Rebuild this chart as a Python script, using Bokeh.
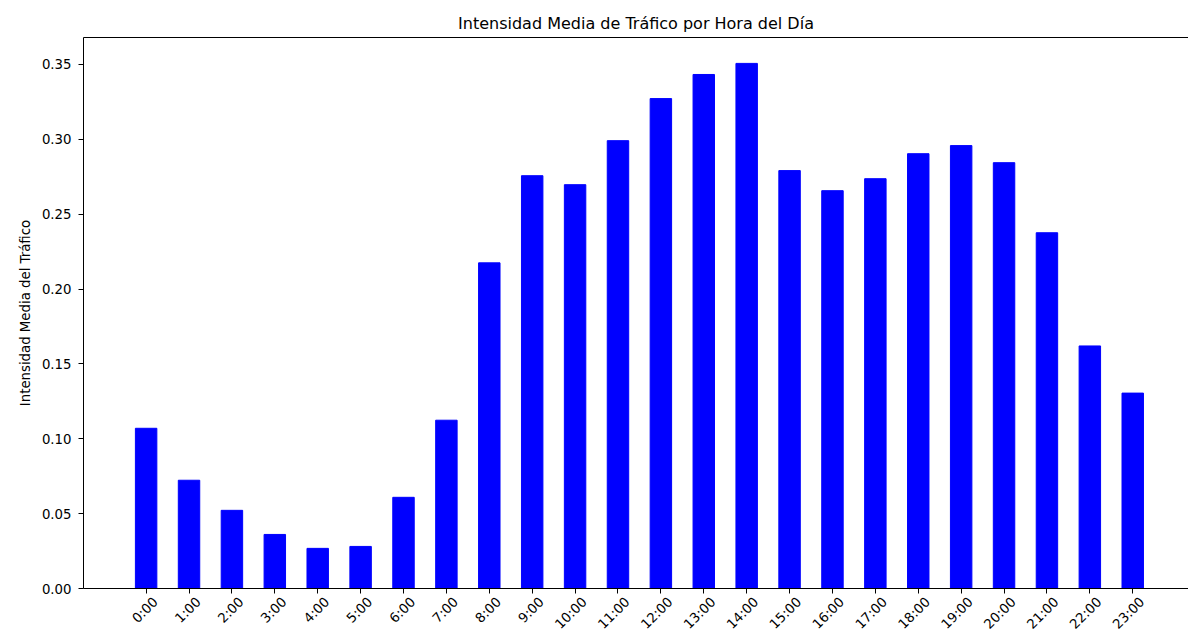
import math
from bokeh.plotting import figure
from bokeh.models import FixedTicker, LinearAxis, Range1d, NumeralTickFormatter
from bokeh.embed import file_html
from bokeh.resources import INLINE

hours = list(range(24))
hour_labels = [f"{h}:00" for h in hours]
intensity = [0.107, 0.0723, 0.0522, 0.0361, 0.0268, 0.0281, 0.0609, 0.1124,
             0.2175, 0.2757, 0.2697, 0.2991, 0.3272, 0.3433, 0.3507, 0.2791,
             0.2657, 0.2737, 0.2904, 0.2958, 0.2844, 0.2376, 0.162, 0.1305]

FONT = "DejaVu Sans"
X0, X1 = -1.46, 24.3
SHIFT = 0.22  # moves rotated labels so that they sit centred under the ticks

p = figure(width=1188, height=641, output_backend="svg", toolbar_location=None,
           x_range=Range1d(X0, X1), y_range=Range1d(0, 0.368),
           min_border_left=83, min_border_top=37, min_border_bottom=53, min_border_right=0,
           title="Intensidad Media de Tráfico por Hora del Día")
p.extra_x_ranges = {"lbl": Range1d(X0 - SHIFT, X1 - SHIFT)}

p.vbar(x=hours, top=intensity, width=0.5, fill_color="#0000ff", line_color="#0000ff")

p.xgrid.visible = False
p.ygrid.visible = False
p.outline_line_color = None

p.title.align = "center"
p.title.offset = 3
p.title.text_font = FONT
p.title.text_font_size = "16px"
p.title.text_font_style = "normal"
p.title.text_color = "#000000"

xa = p.xaxis[0]
xa.ticker = FixedTicker(ticks=hours)
xa.major_label_overrides = {h: "" for h in hours}
xa.major_label_standoff = 0
xa.major_tick_out = 5
xa.major_tick_in = 0
xa.minor_tick_out = 0
xa.minor_tick_in = 0
xa.axis_line_color = "#000000"
xa.major_tick_line_color = "#000000"

lab = LinearAxis(x_range_name="lbl", axis_line_color=None, major_tick_line_color=None,
                 minor_tick_line_color=None, major_tick_out=0, major_tick_in=0,
                 minor_tick_out=0, minor_tick_in=0, major_label_standoff=6,
                 major_label_orientation=math.pi / 4)
lab.ticker = FixedTicker(ticks=hours)
lab.major_label_overrides = {h: s for h, s in zip(hours, hour_labels)}
lab.major_label_text_font = FONT
lab.major_label_text_font_size = "13.3px"
lab.major_label_text_color = "#000000"
p.add_layout(lab, "below")

ya = p.yaxis[0]
ya.ticker = FixedTicker(ticks=[0, 0.05, 0.1, 0.15, 0.2, 0.25, 0.3, 0.35])
ya.formatter = NumeralTickFormatter(format="0.00")
ya.axis_label = "Intensidad Media del Tráfico"
ya.axis_label_text_font = FONT
ya.axis_label_text_font_size = "13.3px"
ya.axis_label_text_font_style = "normal"
ya.axis_label_text_color = "#000000"
ya.axis_label_standoff = 6
ya.major_label_text_font = FONT
ya.major_label_text_font_size = "13.3px"
ya.major_label_text_color = "#000000"
ya.major_label_standoff = 7
ya.major_tick_out = 5
ya.major_tick_in = 0
ya.minor_tick_out = 0
ya.minor_tick_in = 0
ya.axis_line_color = "#000000"
ya.major_tick_line_color = "#000000"

top = LinearAxis(axis_line_color="#000000", major_tick_out=0, major_tick_in=0,
                 minor_tick_out=0, minor_tick_in=0, major_label_standoff=0)
top.ticker = FixedTicker(ticks=[])
p.add_layout(top, "above")

open("out.html", "w").write(file_html(p, INLINE))
